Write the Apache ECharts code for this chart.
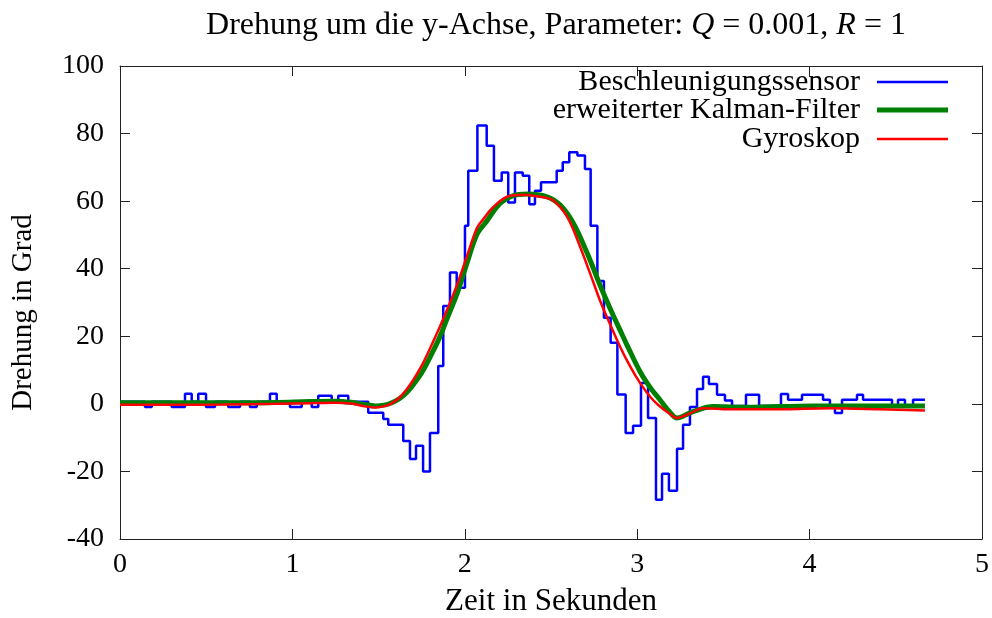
<!DOCTYPE html>
<html>
<head>
<meta charset="utf-8">
<script src="https://cdn.jsdelivr.net/npm/echarts@6/dist/echarts.min.js"></script>
<style>
  html, body { margin: 0; padding: 0; background: #fff; }
  #chart { width: 992px; height: 618px; }
</style>
</head>
<body>
<div id="chart"></div>
<script>
// Beschleunigungssensor: step segment starts (time s, angle deg)
const accelT = [0, 0.145, 0.184, 0.300, 0.377, 0.416, 0.454, 0.499, 0.551, 0.628, 0.696, 0.754, 0.793,
  0.870, 0.909, 0.986, 1.054, 1.112, 1.150, 1.228, 1.266, 1.324, 1.440, 1.527, 1.556, 1.643, 1.682,
  1.717, 1.758, 1.798, 1.846, 1.875, 1.914, 1.953, 2.001, 2.020, 2.073, 2.127, 2.169, 2.214, 2.252,
  2.291, 2.336, 2.374, 2.407, 2.442, 2.533, 2.568, 2.606, 2.653, 2.697, 2.730, 2.769, 2.807, 2.846,
  2.885, 2.933, 2.976, 3.022, 3.063, 3.109, 3.144, 3.184, 3.231, 3.266, 3.306, 3.347, 3.382, 3.416,
  3.463, 3.509, 3.550, 3.631, 3.707, 3.834, 3.875, 3.956, 4.078, 4.118, 4.147, 4.188, 4.275, 4.310,
  4.478, 4.513, 4.553, 4.600, 4.669];
const accelV = [0.6, -0.9, 0.6, -0.9, 3, 0.6, 3, -0.9, 0.6, -0.9, 0.6, -0.9, 0.6,
  3, 0.6, -0.9, 0.6, -0.9, 2.4, 0.6, 2.4, 0.6, -2.6, -4.5, -6.2, -11, -16.3,
  -12.4, -20, -8.6, 11.2, 29, 38.9, 34.4, 52.7, 69, 82.4, 76.4, 66, 68.5, 59.6,
  68.5, 67.5, 59.1, 63.1, 65.6, 69, 71.5, 74.5, 73.5, 69.5, 52.7, 36.4, 25.5, 18.1,
  2.8, -8.6, -6.5, 6.2, -4.2, -28.4, -20.7, -25.7, -13.3, -6.2, -0.9, 4.4, 8, 5.9,
  2.7, 1, -0.6, 2.7, -0.6, 2.9, 1.2, 2.7, 1.2, -0.6, -2.7, 1.2, 2.7, 1.2,
  -0.6, 1.2, -0.6, 1.2, 1.2];

// erweiterter Kalman-Filter
const kalmanT = [0, 0.3, 0.6, 0.9, 1.1, 1.25, 1.35, 1.42, 1.48, 1.54, 1.58, 1.62, 1.66, 1.70, 1.75,
  1.80, 1.856, 1.90, 1.955, 2.013, 2.071, 2.129, 2.204, 2.280, 2.361, 2.477, 2.552, 2.628, 2.709,
  2.784, 2.825, 2.860, 2.900, 2.941, 3.016, 3.08, 3.132, 3.19, 3.231, 3.28, 3.324, 3.440, 3.637,
  4.020, 4.408, 4.669];
const kalmanV = [0.3, 0.3, 0.3, 0.4, 0.7, 0.8, 0.4, -0.2, -0.6, -0.3, 0.4, 1.5, 3.2, 5.6, 9.2,
  14, 19.9, 25.6, 32.6, 41.7, 50.2, 54.2, 59.3, 61.6, 62.1, 61.3, 58.9, 53.6, 44.7,
  35.2, 30.3, 26.3, 21.9, 17.4, 9.6, 4.5, 1.2, -2.5, -4.2, -3.3, -2.3, -0.8, -1.0,
  -0.6, -0.6, -0.6];

// Gyroskop
const gyroT = [0, 0.3, 0.6, 0.9, 1.1, 1.25, 1.35, 1.42, 1.48, 1.54, 1.58, 1.62, 1.66, 1.70, 1.75,
  1.80, 1.856, 1.90, 1.955, 2.013, 2.071, 2.106, 2.164, 2.245, 2.338, 2.436, 2.512, 2.593, 2.668,
  2.744, 2.787, 2.825, 2.900, 2.96, 3.016, 3.08, 3.132, 3.19, 3.231, 3.27, 3.306, 3.382, 3.538,
  3.828, 4.118, 4.408, 4.669];
const gyroV = [-0.3, -0.3, -0.2, 0, 0.2, 0.3, 0, -0.7, -1.1, -0.6, 0.3, 1.8, 4.1, 7, 11.3,
  16.6, 22.9, 28.2, 35.2, 43.8, 52.1, 54.6, 58.2, 61.3, 61.9, 61.3, 60.2, 55.4, 46.6,
  36.2, 30.2, 25.6, 17, 11, 6.2, 1.8, -0.8, -3, -4.2, -3.6, -2.8, -1.3, -1.6,
  -1.6, -1.3, -1.6, -2.0];

const xTicks = [0, 1, 2, 3, 4, 5];
const yTicks = [-40, -20, 0, 20, 40, 60, 80, 100];

const seriesNames = ['Beschleunigungssensor', 'erweiterter Kalman-Filter', 'Gyroskop'];
const seriesColors = ['#0000ff', '#008000', '#ff0000'];
const seriesWidths = [2.5, 5, 2.5];

const zip = (t, v) => t.map((x, i) => [x, v[i]]);

const FONT = 'Liberation Serif';
const frame = '#222';

const chart = echarts.init(document.getElementById('chart'), null, { renderer: 'canvas' });

function baseX(pos, labels) {
  return {
    type: 'value',
    position: pos,
    min: xTicks[0],
    max: xTicks[xTicks.length - 1],
    interval: 1,
    axisLine: { show: true, onZero: false, lineStyle: { color: frame, width: 1 } },
    axisTick: { show: true, inside: true, length: 10, lineStyle: { color: frame } },
    axisLabel: { show: labels, margin: 12, color: '#000', fontFamily: FONT, fontSize: 28 },
    splitLine: { show: false },
  };
}

function baseY(pos, labels) {
  return {
    type: 'value',
    position: pos,
    min: yTicks[0],
    max: yTicks[yTicks.length - 1],
    interval: 20,
    axisLine: { show: true, onZero: false, lineStyle: { color: frame, width: 1 } },
    axisTick: { show: true, inside: true, length: 10, lineStyle: { color: frame } },
    axisLabel: { show: labels, margin: 16, color: '#000', fontFamily: FONT, fontSize: 28 },
    splitLine: { show: false },
  };
}

const xBottom = baseX('bottom', true);
xBottom.name = 'Zeit in Sekunden';
xBottom.nameLocation = 'middle';
xBottom.nameGap = 47;
xBottom.nameTextStyle = { color: '#000', fontFamily: FONT, fontSize: 31 };

const yLeft = baseY('left', true);
yLeft.name = 'Drehung in Grad';
yLeft.nameLocation = 'middle';
yLeft.nameGap = 82;
yLeft.nameTextStyle = { color: '#000', fontFamily: FONT, fontSize: 29, padding: [0, 20, 0, 0] };

const legendTops = [67, 95, 124];

chart.setOption({
  animation: false,
  backgroundColor: '#fff',
  title: {
    text: '{n|Drehung um die y-Achse, Parameter: }{i|Q}{n| = 0.001, }{i|R}{n| = 1}',
    left: 551,
    top: 5,
    textAlign: 'center',
    textStyle: {
      fontWeight: 'normal',
      rich: {
        n: { fontFamily: FONT, fontSize: 32, fontWeight: 'normal', color: '#000' },
        i: { fontFamily: FONT, fontSize: 32, fontWeight: 'normal', fontStyle: 'italic', color: '#000' },
      },
    },
  },
  grid: { left: 120, right: 10, top: 66, bottom: 79, containLabel: false, outerBoundsMode: 'none' },
  legend: seriesNames.map((name, i) => ({
    data: [name],
    right: 44,
    top: legendTops[i],
    padding: 0,
    align: 'right',
    icon: 'rect',
    itemWidth: 71,
    itemHeight: seriesWidths[i],
    selectedMode: false,
    textStyle: { fontFamily: FONT, fontSize: 30, color: '#000', padding: [0, 12, 0, 0], lineHeight: 30 },
  })),
  xAxis: [xBottom, baseX('top', false)],
  yAxis: [yLeft, baseY('right', false)],
  series: [
    {
      name: seriesNames[0],
      type: 'line',
      step: 'end',
      data: zip(accelT, accelV),
      showSymbol: false,
      symbol: 'none',
      lineStyle: { color: seriesColors[0], width: seriesWidths[0] },
      itemStyle: { color: seriesColors[0] },
      z: 2,
    },
    {
      name: seriesNames[1],
      type: 'line',
      smooth: 0.35,
      data: zip(kalmanT, kalmanV),
      showSymbol: false,
      symbol: 'none',
      lineStyle: { color: seriesColors[1], width: seriesWidths[1] },
      itemStyle: { color: seriesColors[1] },
      z: 3,
    },
    {
      name: seriesNames[2],
      type: 'line',
      smooth: 0.35,
      data: zip(gyroT, gyroV),
      showSymbol: false,
      symbol: 'none',
      lineStyle: { color: seriesColors[2], width: seriesWidths[2] },
      itemStyle: { color: seriesColors[2] },
      z: 4,
    },
  ],
});
</script>
</body>
</html>
